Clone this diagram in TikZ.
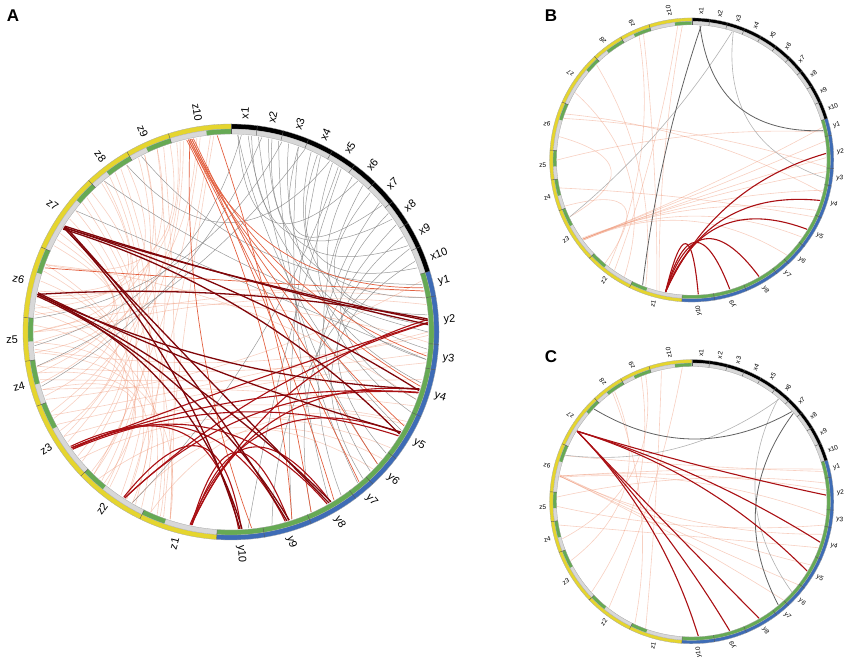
\documentclass[tikz,border=0pt]{standalone}
\usepackage{fontspec}
\setmainfont{Liberation Sans}
\usetikzlibrary{calc}

\definecolor{ringYellow}{RGB}{229,213,46}
\definecolor{ringGreen}{RGB}{102,170,84}
\definecolor{ringBlue}{RGB}{62,108,182}
\definecolor{ringGray}{RGB}{216,216,216}
\definecolor{cDark}{RGB}{128,6,10}
\definecolor{cRed}{RGB}{170,16,20}
\definecolor{cOrange}{RGB}{226,96,64}
\definecolor{cFaint}{RGB}{238,150,118}
\definecolor{cGray}{RGB}{120,120,120}

\tikzset{
  ringline/.style={draw=black!35,line width=0.3pt},
  tickline/.style={draw=black!65,line width=0.4pt},
  lbl/.style={inner sep=0pt},
  darklink/.style={cDark,line width=1.3pt},
  redlink/.style={cRed,line width=1.1pt},
  orangelink/.style={cOrange,line width=0.7pt},
  faintlink/.style={cFaint,line width=0.6pt,opacity=0.45},
  graylink/.style={cGray,line width=0.5pt,opacity=0.75},
  dgraylink/.style={black!62,line width=0.8pt},
  lgraylink/.style={black!30,line width=0.6pt},
  panel/.style={font=\fontsize{17}{20}\selectfont\bfseries}
}

% chord end radius and control radius
\newcommand\rc{197}
\newcommand\rb{50}
\newcommand\chord[3][]{%
  \pgfmathsetmacro\chdiff{mod(#3-(#2)+540,360)-180}%
  \pgfmathsetmacro\chmid{#2+\chdiff/2}%
  \draw[#1] (#2:\rc) .. controls ($(#2:\rc)!.667!(\chmid:\rb)$)
    and ($(#3:\rc)!.667!(\chmid:\rb)$) .. (#3:\rc);}

% ring piece: colour, start, end, inner r, outer r
\newcommand\bandseg[5]{%
  \fill[#1] (#2:#5) arc[start angle=#2,end angle=#3,radius=#5]
    -- (#3:#4) arc[start angle=#3,end angle=#2,radius=#4] -- cycle;}

% ring: panel name, label font, test for labels read inwards
\newcommand\drawring[3]{%
  % outer and inner bands
  \bandseg{black}{90}{17}{203}{208}
  \bandseg{ringBlue}{17}{-94}{203}{208}
  \bandseg{ringYellow}{266}{90}{203}{208}
  \bandseg{ringGray}{90}{17}{198}{203}
  \bandseg{ringGreen}{17}{-94}{198}{203}
  \bandseg{ringGray}{266}{90}{198}{203}
  \foreach \a/\b in {244/250.8,223.8/230.8,200.9/208.5,188.1/195,176/182.7,
      155.9/163,133.2/139.5,120/127.8,107.5/114.7,90/97}
    {\bandseg{ringGreen}{\a}{\b}{198}{203}}
  \draw[ringline] (0,0) circle[radius=208] (0,0) circle[radius=203]
    (0,0) circle[radius=198];
  % segment ticks
  \foreach \a in {90,82.7,75.4,68.1,60.8,53.5,46.2,38.9,31.6,24.3,17,
      10,-3.4,-10.5,-24,-37.5,-47,-53.2,-67.3,-80.7,-94,
      244,223.8,200.9,188.1,176,155.9,133.2,120,107.5}
    {\draw[tickline] (\a:198) -- (\a:208);}
  % labels
  \foreach \lab/\a in {x1/86.35,x2/79.05,x3/71.75,x4/64.45,x5/57.15,x6/49.85,
      x7/42.55,x8/35.25,x9/27.95,x10/20.65,
      y1/13.5,y2/3.3,y3/-6.95,y4/-17.25,y5/-30.75,y6/-42.25,y7/-50.1,
      y8/-60.25,y9/-74,y10/-87.35,
      z1/255,z2/233.9,z3/212.35,z4/194.5,z5/182.05,z6/165.95,z7/144.55,
      z8/126.6,z9/113.75,z10/98.75}{
    \pgfmathtruncatemacro\flip{#3}
    \ifnum\flip=1
      \node[lbl,rotate=\a-180,anchor=east] (#1-\lab) at (\a:213) {#2\lab};
    \else
      \node[lbl,rotate=\a,anchor=west] (#1-\lab) at (\a:213) {#2\lab};
    \fi
  }
}

\begin{document}
\begin{tikzpicture}[x=1pt,y=1pt]
  \useasboundingbox (0,0) rectangle (850,666);

  % Panel A
  \node[panel] (pA) at (13,650) {A};
  \begin{scope}[shift={(231,334)}]
    \foreach \s/\t in {95/250,96/238,99/226,104/214,105/204,110/252,112/241,
        116/229,118/212,116/195,124/248,126/236,128/221,130/206,131/190,
        137/252,139/243,142/231,145/219,150/199,152/186,154/180,160/246,
        162/232,165/210,172/226,174/249,178/238,183/225,186/252,192/240,
        197/230,112/180,122/168,100/192,106/173,135/170,108/160,
        180/12,183/8,185/-1,190/-6,194/-14,197/-22,205/0,208/-9,212/-27,
        220/-36,228/-44,200/15,175/-3,240/-40,246/-28,170/10,160/-20}
      \chord[faintlink]{\s}{\t};
    \foreach \s/\t in {88/-30,85/-5,82/-42,79/10,76/-50,73/-15,70/-60,66/2,
        63/-72,59/-24,56/-85,52/-8,48/-45,45/5,41/-56,37/-20,33/-66,
        29/-38,25/-78,21/-48,
        88/50,84/35,78/26,70/40,64/19,
        87/184,81/196,75/176,68/190,
        117/14,130/0,142/-8,240/57,122/60}
      \chord[graylink]{\s}{\t};
    \foreach \s/\t in {102/13,101.5/-7,102.5/-16,102/-28.5,101/-42,
        102.5/-49.5,101.5/-58.5,103/-72,102/-84,94/-66,161/12}
      \chord[orangelink]{\s}{\t};
    \foreach \s/\t in {216/2.8,216/-17.8,216.5/-31.8,216/-60.8,215.5/-74,
        258.4/3.6,258.4/-17,258/-30.8,258.6/-59.6,258.4/-73,
        237.4/2.6,237.4/-18,-87.8/216.5,-87/237}
      \chord[redlink]{\s}{\t};
    \foreach \s/\t in {148/3.3,147.5/2.2,148/-17.3,148.5/-31.2,148/-60.2,
        147.5/-73.5,148/-87.4,169/3.8,169/-16.8,168.5/-30.5,169/-59.5,
        169.5/-72.8,169/-86.8}
      \chord[darklink]{\s}{\t};
    \drawring{A}{\fontsize{11}{13}\selectfont}{and(\a>90,\a<270)}
  \end{scope}

  % Panel B
  \node[panel] (pB) at (551,650) {B};
  \begin{scope}[shift={(691.7,506)},scale=0.683]
    \foreach \s/\t in {216/14,216/8,216.5/1,216/-5,216/-13,215.5/-22,
        216/-35,216.5/-45,135/250,111/255,94/256,96/235,113/232,160/-14,
        162/-3,180/12,192/-25,205/170,230/200,150/240}
      \chord[faintlink]{\s}{\t};
    \chord[lgraylink]{72}{-7.8}
    \chord[lgraylink]{72.5}{205}
    \chord[dgraylink]{86.5}{12.6}
    \chord[dgraylink]{86}{248.6}
    \foreach \t in {2.8,-17.5,-31,-60,-73.6,-87.2}
      \chord[redlink]{258.8}{\t};
    \drawring{B}{\fontsize{6.5}{7}\selectfont}{or(and(\a>150,\a<270),\a<-65)}
  \end{scope}

  % Panel C
  \node[panel] (pC) at (551,309) {C};
  \begin{scope}[shift={(691.7,164.3)},scale=0.683]
    \foreach \s/\t in {169/14,169/5,169.5/-6,169/-14,168.5/-28,169/-38,
        169/-47,160/13,125/206,110/196,94/232,126/245,112/222,103/250,
        182/-10,178/8,190/-20}
      \chord[faintlink]{\s}{\t};
    \chord[lgraylink]{49.6}{159.8}
    \chord[lgraylink]{50}{-42}
    \chord[dgraylink]{136.5}{42}
    \chord[dgraylink]{41}{-50}
    \foreach \t in {2.8,-17.5,-31,-60,-73.6,-87.2}
      \chord[redlink]{148.4}{\t};
    \drawring{C}{\fontsize{6.5}{7}\selectfont}{or(and(\a>150,\a<270),\a<-65)}
  \end{scope}
\end{tikzpicture}
\end{document}
